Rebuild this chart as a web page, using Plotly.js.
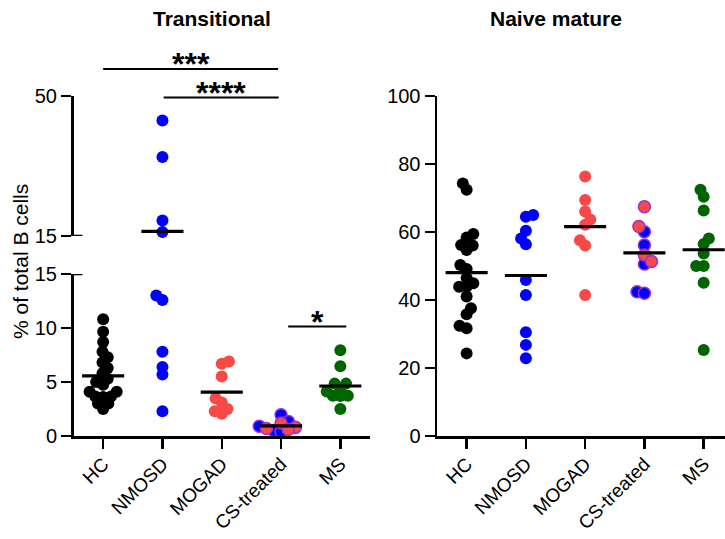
<!DOCTYPE html>
<html><head><meta charset="utf-8">
<script src="https://cdn.plot.ly/plotly-3.0.1.min.js"></script>
<style>html,body{margin:0;padding:0;background:#fff}#chart{width:725px;height:539px}</style>
</head><body><div id="chart"></div>
<script>
const groups = ["HC", "NMOSD", "MOGAD", "CS-treated", "MS"];

// Transitional B cells (% of total B cells)
const transHC = [10.8, 9.65, 8.7, 7.8, 7.3, 6.8, 6.3, 5.8, 5.3, 5.0, 4.75, 4.1, 4.1, 3.65, 3.6, 3.65, 3.0, 3.0, 2.5];
const transNMOSD = [43.9, 34.75, 18.9, 16.0, 13.0, 12.6, 7.8, 6.4, 5.7, 2.3];
const transMOGAD = [6.9, 6.7, 5.5, 3.5, 3.1, 2.5, 2.3, 2.05];
const transCSBlue = [1.96, 1.35, 0.9, 0.5, 0.4];
const transCSRed = [1.2, 0.8, 0.7, 0.6];
const transMS = [7.95, 6.46, 4.85, 4.85, 4.4, 4.13, 3.73, 3.73, 3.7, 2.49];

// Naive mature B cells (% of total B cells)
const naiveHC = [74.3, 72.4, 59.4, 58.4, 56.2, 56.0, 54.7, 50.3, 49.1, 46.5, 44.9, 43.9, 43.9, 41.0, 37.6, 35.8, 32.4, 31.7, 24.3];
const naiveNMOSD = [64.5, 65.0, 60.4, 58.1, 56.4, 45.9, 41.5, 30.5, 26.8, 22.9];
const naiveMOGAD = [76.3, 69.4, 66.0, 63.7, 62.1, 57.6, 56.0, 41.5];
const naiveCSBlue = [60.1, 56.2, 50.6, 42.4, 42.0];
const naiveCSRed = [67.4, 61.6, 53.2, 51.3];
const naiveMS = [72.4, 70.4, 66.3, 58.1, 56.5, 53.7, 50.0, 50.0, 45.1, 25.3];

// Significance annotations (Transitional panel)
const sigLabels = ["***", "****", "*"];
const sigFrom = [0, 1, 3];
const sigTo = [3, 3, 4];

// ---------------- styling / geometry ----------------
const W = 725, H = 539;
const FONT = "Arial, 'Liberation Sans', sans-serif";
const colBlack = "#000000", colBlue = "#0000FF", colRed = "#F84848", colGreen = "#006400", colPurple = "#9A2FD0";

const L = {x0: 73.5, x1: 370, loBot: 436, loTop: 274, upBot: 236, upTop: 96};
const R = {x0: 437, x1: 725, bot: 436, top: 96};
const leftRange = [-0.5, 4.5];
const rightRange = [-0.5, 4.36];
const leftCatPx = (L.x1 - L.x0) / (leftRange[1] - leftRange[0]);
const rightCatPx = (R.x1 - R.x0) / (rightRange[1] - rightRange[0]);

function pixLeft(v) {
  return v <= 15 ? L.loBot - v * (L.loBot - L.loTop) / 15 : L.upBot - (v - 15) * (L.upBot - L.upTop) / 35;
}
function pixRight(v) { return R.bot - v * (R.bot - R.top) / 100; }

function swarm(vals, pix, D) {
  const idx = vals.map((v, i) => i).sort((a, b) => vals[a] - vals[b]);
  const placed = [], off = new Array(vals.length);
  let flip = 1;
  for (const i of idx) {
    const y = pix(vals[i]);
    const cands = [0];
    for (const p of placed) {
      const dy = Math.abs(p.y - y);
      if (dy < D) { const w = Math.sqrt(D * D - dy * dy); cands.push(p.x - w, p.x + w); }
    }
    cands.sort((a, b) => (Math.abs(a) - Math.abs(b)) || (flip * (a - b)));
    let chosen = 0;
    for (const c of cands) {
      let ok = true;
      for (const p of placed) {
        const dx = p.x - c, dy = p.y - y;
        if (dx * dx + dy * dy < D * D - 0.01) { ok = false; break; }
      }
      if (ok) { chosen = c; break; }
    }
    if (chosen !== 0) flip = -flip;
    placed.push({x: chosen, y: y});
    off[i] = chosen;
  }
  return off;
}

const mean = a => a.reduce((s, v) => s + v, 0) / a.length;
const traces = [];
const DIAM = 7.5;

function addGroup(panel, gi, parts) {
  const all = [], meta = [];
  parts.forEach((p, pi) => p.vals.forEach(v => { all.push(v); meta.push(pi); }));
  const pix = panel === "L" ? pixLeft : pixRight;
  const catPx = panel === "L" ? leftCatPx : rightCatPx;
  const off = swarm(all, pix, DIAM);
  parts.forEach((p, pi) => {
    const sets = panel === "L" ? [["y", v => v <= 15], ["y3", v => v > 15]] : [["y2", v => true]];
    sets.forEach(([ya, test]) => {
      const xs = [], ys = [];
      all.forEach((v, k) => { if (meta[k] === pi && test(v)) { xs.push(gi + off[k] / catPx); ys.push(v); } });
      if (!xs.length) return;
      traces.push({
        type: "scatter", mode: "markers", x: xs, y: ys,
        xaxis: panel === "L" ? "x" : "x2", yaxis: ya, cliponaxis: false, hoverinfo: "skip",
        marker: {size: 12, color: p.fill, line: {color: p.line, width: p.lw || 0}}
      });
    });
  });
  const m = mean(all);
  const ya = panel === "L" ? (m <= 15 ? "y" : "y3") : "y2";
  traces.push({
    type: "scatter", mode: "lines", x: [gi - 0.355, gi + 0.355], y: [m, m],
    xaxis: panel === "L" ? "x" : "x2", yaxis: ya, cliponaxis: false, hoverinfo: "skip",
    line: {color: "#000", width: 3.2}
  });
}

addGroup("L", 0, [{vals: transHC, fill: colBlack, line: colBlack}]);
addGroup("L", 1, [{vals: transNMOSD, fill: colBlue, line: colBlue}]);
addGroup("L", 2, [{vals: transMOGAD, fill: colRed, line: colRed}]);
addGroup("L", 3, [{vals: transCSBlue, fill: colBlue, line: colPurple, lw: 1.5}, {vals: transCSRed, fill: colRed, line: colPurple, lw: 1.5}]);
addGroup("L", 4, [{vals: transMS, fill: colGreen, line: colGreen}]);

addGroup("R", 0, [{vals: naiveHC, fill: colBlack, line: colBlack}]);
addGroup("R", 1, [{vals: naiveNMOSD, fill: colBlue, line: colBlue}]);
addGroup("R", 2, [{vals: naiveMOGAD, fill: colRed, line: colRed}]);
addGroup("R", 3, [{vals: naiveCSBlue, fill: colBlue, line: colPurple, lw: 1.5}, {vals: naiveCSRed, fill: colRed, line: colPurple, lw: 1.5}]);
addGroup("R", 4, [{vals: naiveMS, fill: colGreen, line: colGreen}]);

const py = p => (H - p) / H;
const px = p => p / W;

const axCommon = {
  showline: true, linecolor: "#000", linewidth: 2.5, ticks: "outside", ticklen: 10, tickwidth: 2.5,
  tickcolor: "#000", showgrid: false, zeroline: false, fixedrange: true,
  tickfont: {family: FONT, size: 20, color: "#000"}
};
const xTickFont = {family: FONT, size: 19, color: "#000"};

const layout = {
  width: W, height: H, margin: {l: 0, r: 0, t: 0, b: 0},
  paper_bgcolor: "#fff", plot_bgcolor: "rgba(0,0,0,0)", showlegend: false,
  xaxis: Object.assign({}, axCommon, {domain: [px(L.x0), px(L.x1)], range: leftRange, anchor: "y",
    tickmode: "array", tickvals: [0, 1, 2, 3, 4], ticktext: groups, tickangle: -45, tickfont: xTickFont, ticklabelstandoff: -3}),
  yaxis: Object.assign({}, axCommon, {domain: [py(L.loBot), py(L.loTop)], range: [0, 15], anchor: "x",
    tickmode: "array", tickvals: [0, 5, 10, 15]}),
  yaxis3: Object.assign({}, axCommon, {domain: [py(L.upBot), py(L.upTop)], range: [15, 50], anchor: "x",
    tickmode: "array", tickvals: [15, 50]}),
  xaxis2: Object.assign({}, axCommon, {domain: [px(R.x0), px(R.x1)], range: rightRange, anchor: "y2",
    tickmode: "array", tickvals: [0, 1, 2, 3, 4], ticktext: groups, tickangle: -45, tickfont: xTickFont, ticklabelstandoff: -3}),
  yaxis2: Object.assign({}, axCommon, {domain: [py(R.bot), py(R.top)], range: [0, 100], anchor: "x2",
    tickmode: "array", tickvals: [0, 20, 40, 60, 80, 100]}),
  shapes: [
    {type: "line", xref: "paper", yref: "y", x0: px(L.x0), x1: px(L.x0 + 9), y0: 15, y1: 15, line: {color: "#000", width: 2.5}},
    {type: "line", xref: "paper", yref: "y3", x0: px(L.x0), x1: px(L.x0 + 9), y0: 15, y1: 15, line: {color: "#000", width: 2.5}}
  ],
  annotations: [
    {text: "<b>Transitional</b>", xref: "paper", yref: "paper", x: px(212), y: py(18), xanchor: "center", yanchor: "middle",
      showarrow: false, font: {family: FONT, size: 21, color: "#000"}},
    {text: "<b>Naive mature</b>", xref: "paper", yref: "paper", x: px(556), y: py(18), xanchor: "center", yanchor: "middle",
      showarrow: false, font: {family: FONT, size: 21, color: "#000"}},
    {text: "% of total B cells", xref: "paper", yref: "paper", x: px(20), y: py(262), xanchor: "center", yanchor: "middle",
      textangle: -90, showarrow: false, font: {family: FONT, size: 21, color: "#000"}}
  ]
};

// significance brackets
const sigLineY = [69, 97.5, 326.5]; // pixel rows
const sigXadj = [[0, -0.05], [0.02, -0.04], [0.12, 0.1]];
sigLabels.forEach((lab, i) => {
  const xa = sigFrom[i] + sigXadj[i][0], xb = sigTo[i] + sigXadj[i][1];
  layout.shapes.push({type: "line", xref: "x", yref: "paper", x0: xa, x1: xb, y0: py(sigLineY[i]), y1: py(sigLineY[i]),
    line: {color: "#000", width: 2}});
  layout.annotations.push({text: "<b>" + lab + "</b>", xref: "x", yref: "paper", x: (xa + xb) / 2, y: py(sigLineY[i] + 15),
    xanchor: "center", yanchor: "bottom", showarrow: false, font: {family: FONT, size: 32, color: "#000"}});
});

Plotly.newPlot("chart", traces, layout, {displayModeBar: false, staticPlot: true});
</script>
</body></html>
